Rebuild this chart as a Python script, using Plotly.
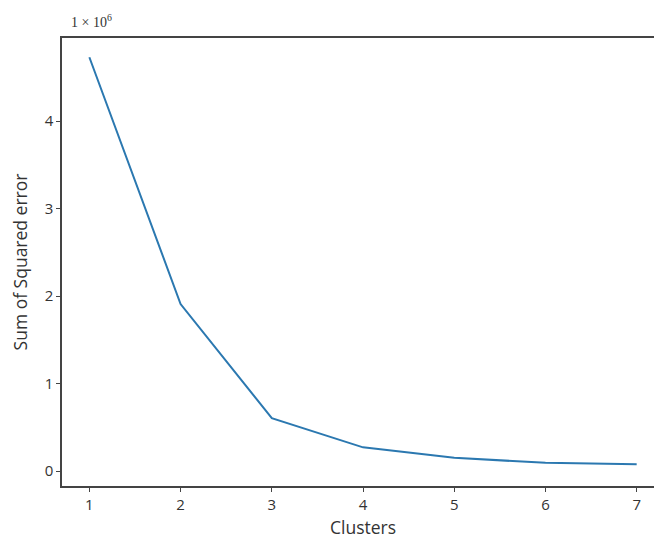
import plotly.graph_objects as go

clusters = [1, 2, 3, 4, 5, 6, 7]
sse = [4730000, 1910000, 605000, 272000, 152000, 95000, 78000]
scale = 1e6
y_ticks = [0, 1, 2, 3, 4]
x_ticks = [1, 2, 3, 4, 5, 6, 7]

fig = go.Figure()
fig.add_trace(go.Scatter(
    x=clusters, y=[v / scale for v in sse], mode="lines",
    line=dict(color="#2b78b0", width=2), showlegend=False,
))

axis_font = dict(family="Open Sans", size=15, color="#333333")
title_font = dict(family="Open Sans", size=17.5, color="#333333")
fig.update_layout(
    width=654, height=539,
    margin=dict(l=62, r=0, t=38, b=53),
    paper_bgcolor="white", plot_bgcolor="white",
    xaxis=dict(
        range=[0.7, 7.19], tickvals=x_ticks, ticks="outside", ticklen=4,
        tickcolor="#444444", showline=True, linecolor="#444444", linewidth=1.5,
        mirror=True, showgrid=False, zeroline=False, tickfont=axis_font,
    ),
    yaxis=dict(
        range=[-0.17, 4.95], tickvals=y_ticks, ticks="outside", ticklen=4,
        tickcolor="#444444", showline=True, linecolor="#444444", linewidth=1.5,
        showgrid=False, zeroline=False, tickfont=axis_font,
        title=dict(text="Sum of Squared error", font=title_font, standoff=13),
    ),
    annotations=[
        dict(
            text="1 × 10<sup>6</sup>", xref="paper", yref="paper", x=0.0, y=1.0,
            xanchor="left", yanchor="bottom", yshift=6, xshift=7, showarrow=False,
            font=dict(family="Liberation Serif", size=14, color="#333333"),
        ),
        dict(
            text="Clusters", xref="x", yref="paper", x=4.0, y=0.0,
            xanchor="center", yanchor="top", yshift=-27, showarrow=False,
            font=title_font,
        ),
    ],
)

fig.write_html("out.html")
